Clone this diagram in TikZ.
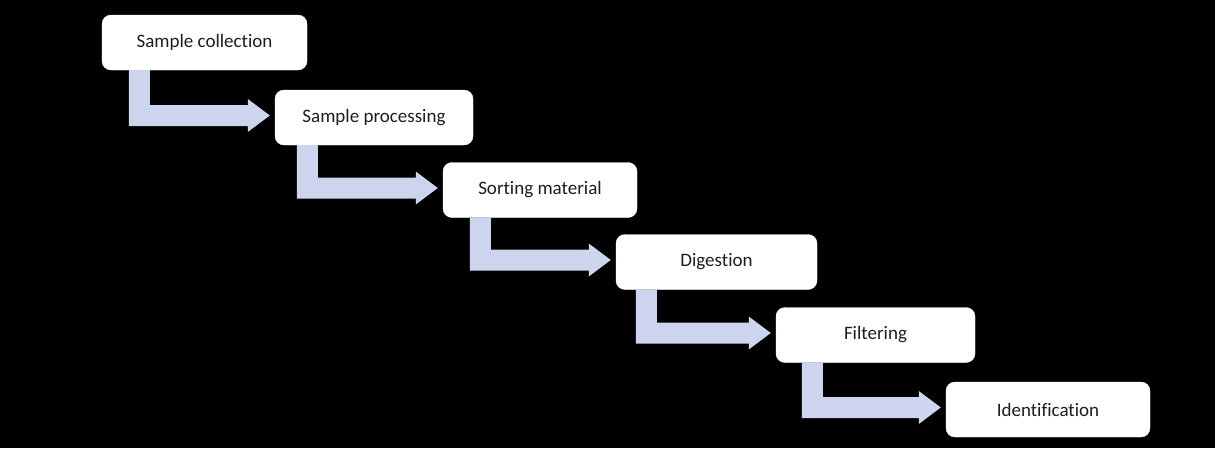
\documentclass[tikz,border=0pt]{standalone}
\usepackage{fontspec}
\setmainfont{Carlito}[Ligatures=NoCommon]
\usetikzlibrary{calc}
\definecolor{arrowblue}{RGB}{205,212,238}
\definecolor{boxtext}{RGB}{30,30,30}
\tikzset{
  stepbox/.style={draw=white, fill=white, rounded corners=9pt, minimum height=55pt,
    inner sep=0pt, text=boxtext, font=\fontsize{19}{22}\selectfont},
  flowarrow/.style={fill=arrowblue}
}
\begin{document}
\begin{tikzpicture}[x=1pt, y=1pt]
    \fill[black] (0, 0) rectangle (1215, -448);
    \useasboundingbox (0, 0) rectangle (1215, -448);

    % the six steps
    \foreach \n/\x/\y/\w/\txt in {1/204.5/42.5/205/Sample collection,
        2/374/117.5/198/Sample processing, 3/540/190/194/Sorting material,
        4/716.5/262/201/Digestion, 5/875.5/335/199/Filtering,
        6/1048/409.5/204/Identification} {
      \node[stepbox, minimum width=\w pt] (s\n) at (\x, -\y) {\txt};
    }

    % bent arrows from one step to the next
    \foreach \i/\j/\off in {1/2/27, 2/3/22, 3/4/27, 4/5/20, 5/6/26} {
      \coordinate (a) at ($(s\i.south west)+(\off, 0)$);
      \coordinate (t) at ($(s\j.west)+(-5, 2)$);
      \fill[flowarrow] (a) -- ++(21, 0) |- ($(t)+(-22, 10.5)$) -- ++(0, 6)
        -- (t) -- ++(-22, -16.5) -- ++(0, 6) -| (a) -- cycle;
    }
  \end{tikzpicture}
\end{document}
